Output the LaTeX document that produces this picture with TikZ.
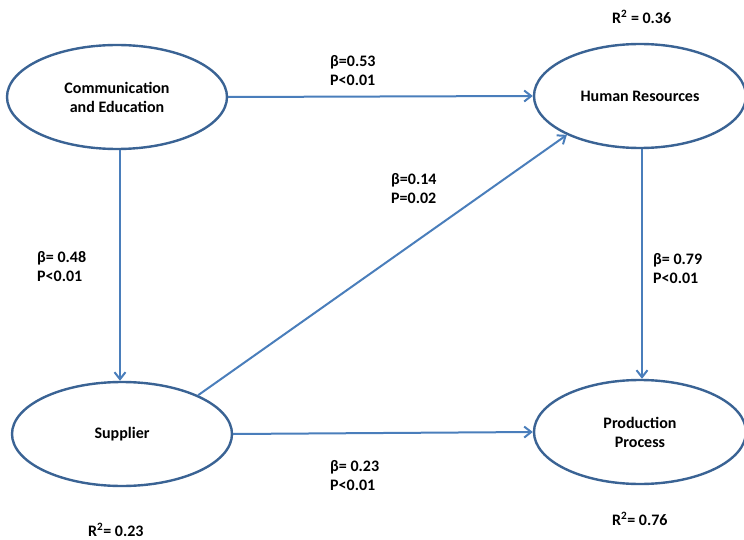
\documentclass[tikz,border=0pt]{standalone}
\usepackage{fontspec}
\setmainfont{Carlito}
\usetikzlibrary{shapes.geometric,arrows.meta}
\definecolor{edgeblue}{HTML}{4A7EBB}
\definecolor{rimblue}{HTML}{3A6394}
\begin{document}
\begin{tikzpicture}[x=1pt,y=-1pt,
  construct/.style={ellipse,draw=rimblue,line width=2.4pt,fill=white,
    minimum width=#1,minimum height=104pt,inner sep=0pt,
    font=\bfseries\fontsize{16}{19}\selectfont,align=center},
  path/.style={draw=edgeblue,line width=2pt,
    -{Straight Barb[length=7pt,width=11pt,line width=2pt]}},
  stat/.style={font=\bfseries\fontsize{16}{19}\selectfont,align=left,anchor=north west,inner sep=0pt}]
\useasboundingbox (0,0) rectangle (744,540);
\node[construct=220pt] (ce) at (117,97) {Communication\\and Education};
\node[construct=212pt] (hr) at (640,96) {Human Resources};
\node[construct=220pt] (su) at (122,434) {Supplier};
\node[construct=212pt] (pp) at (640,432) {Production\\Process};
\draw[path] (ce.east) -- (hr.west);
\draw[path] (ce.south -| 120,0) -- (su.north -| 120,0);
\draw[path] (su.27) -- (hr.-152);
\draw[path] (hr.south -| 642,0) -- (pp.north -| 642,0);
\draw[path] (su.east) -- (pp.west);
\node[stat] (s1) at (330,55) {β=0.53\\P<0.01};
\node[stat] (s2) at (391,173) {β=0.14\\P=0.02};
\node[stat] (s3) at (37,251) {β= 0.48\\P<0.01};
\node[stat] (s4) at (653,253) {β= 0.79\\P<0.01};
\node[stat] (s5) at (330,460) {β= 0.23\\P<0.01};
\node[stat] (r1) at (612,10) {R\textsuperscript{2} = 0.36};
\node[stat] (r2) at (88,523) {R\textsuperscript{2}= 0.23};
\node[stat] (r3) at (612,512) {R\textsuperscript{2}= 0.76};
\end{tikzpicture}
\end{document}
